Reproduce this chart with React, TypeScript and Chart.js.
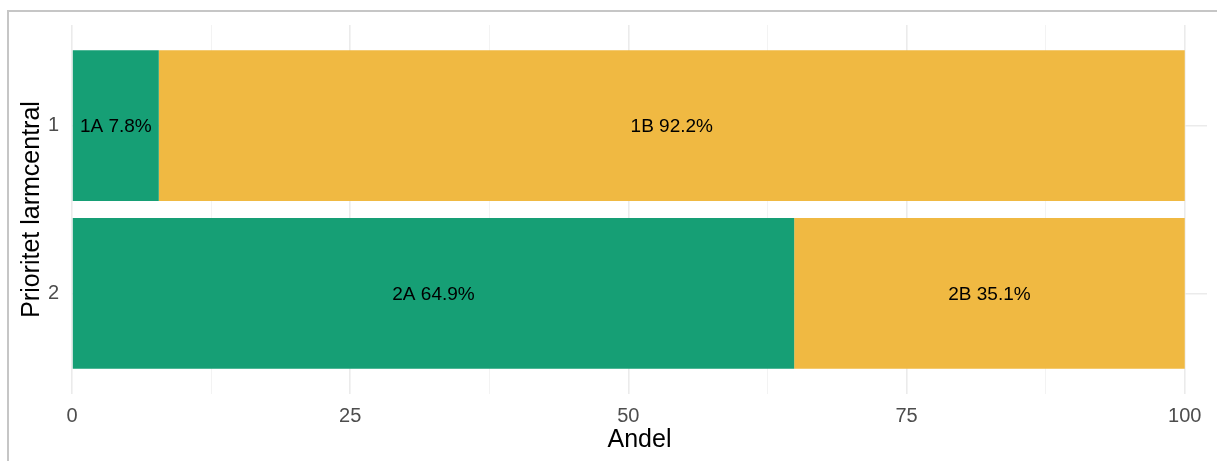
import React, { useEffect, useRef } from "react";
import { Chart, registerables } from "chart.js";

Chart.register(...registerables);

// ---- data ----
const categories = ["1", "2"];
const groupACodes = ["1A", "2A"];
const groupBCodes = ["1B", "2B"];
const shareA = [7.8, 64.9];
const shareB = [92.2, 35.1];
const xTickValues = [0, 25, 50, 75, 100];
const xAxisTitle = "Andel";
const yAxisTitle = "Prioritet larmcentral";

const GREEN = "#169F75";
const YELLOW = "#F0B942";
const FONT = '"Liberation Sans", Arial, Helvetica, sans-serif';

const codesByDataset = [groupACodes, groupBCodes];
const valuesByDataset = [shareA, shareB];

const framePlugin = {
  id: "frame",
  beforeDraw(chart: any) {
    const ctx = chart.ctx;
    ctx.save();
    ctx.strokeStyle = "#c6c6c6";
    ctx.lineWidth = 2;
    ctx.beginPath();
    ctx.moveTo(8, chart.height);
    ctx.lineTo(8, 11);
    ctx.lineTo(chart.width, 11);
    ctx.stroke();
    ctx.restore();
  },
};

const barLabelPlugin = {
  id: "barLabels",
  afterDatasetsDraw(chart: any) {
    const ctx = chart.ctx;
    ctx.save();
    ctx.font = `19px ${FONT}`;
    ctx.fillStyle = "#000000";
    ctx.textAlign = "center";
    ctx.textBaseline = "middle";
    chart.data.datasets.forEach((_ds: any, di: number) => {
      const meta = chart.getDatasetMeta(di);
      meta.data.forEach((el: any, i: number) => {
        const { x, base, y } = el.getProps(["x", "base", "y"], true);
        const v = valuesByDataset[di][i];
        ctx.fillText(`${codesByDataset[di][i]} ${v.toFixed(1)}%`, (x + base) / 2, y + 1);
      });
    });
    ctx.restore();
  },
};

export default function App() {
  const ref = useRef<HTMLCanvasElement | null>(null);

  useEffect(() => {
    if (!ref.current) return;
    const chart = new Chart(ref.current, {
      type: "bar",
      data: {
        datasets: [
          {
            label: "A",
            data: shareA.map((v, i) => ({ x: v, y: i + 1 })) as any,
            backgroundColor: GREEN,
            borderWidth: 0,
            barPercentage: 0.9,
            categoryPercentage: 1,
          },
          {
            label: "B",
            data: shareB.map((v, i) => ({ x: v, y: i + 1 })) as any,
            backgroundColor: YELLOW,
            borderWidth: 0,
            barPercentage: 0.9,
            categoryPercentage: 1,
          },
        ],
      },
      options: {
        indexAxis: "y",
        responsive: false,
        animation: false,
        layout: { padding: { top: 24, right: 10, left: 0, bottom: 0 } },
        plugins: {
          legend: { display: false },
          tooltip: { enabled: false },
        },
        scales: {
          x: {
            type: "linear",
            stacked: true,
            min: 0,
            max: 102,
            offset: false,
            afterBuildTicks: (scale: any) => {
              const t: any[] = [];
              xTickValues.forEach((v, i) => {
                t.push({ value: v });
                if (i < xTickValues.length - 1) t.push({ value: (v + xTickValues[i + 1]) / 2 });
              });
              scale.ticks = t;
            },
            afterFit: (scale: any) => {
              scale.height = 67;
            },
            ticks: {
              autoSkip: false,
              maxRotation: 0,
              padding: 10,
              color: "#4d4d4d",
              font: { family: FONT, size: 20 },
              callback: (value: any) => (xTickValues.includes(Number(value)) ? String(value) : ""),
            },
            grid: {
              drawTicks: false,
              offset: false,
              color: (c: any) => (xTickValues.includes(c.tick?.value) ? "#ebebeb" : "#f3f3f3"),
              lineWidth: (c: any) => (xTickValues.includes(c.tick?.value) ? 1.6 : 1),
            },
            border: { display: false },
            title: {
              display: true,
              text: xAxisTitle,
              color: "#000000",
              font: { family: FONT, size: 25 },
              padding: { top: 0, bottom: 6 },
            },
          },
          y: {
            type: "linear",
            stacked: true,
            reverse: true,
            offset: false,
            min: 0.4,
            max: categories.length + 0.6,
            afterBuildTicks: (scale: any) => {
              scale.ticks = categories.map((_c, i) => ({ value: i + 1 }));
            },
            afterFit: (scale: any) => {
              scale.width = 72;
            },
            ticks: {
              autoSkip: false,
              padding: 13,
              color: "#4d4d4d",
              font: { family: FONT, size: 20 },
              callback: (value: any) => categories[Number(value) - 1] ?? "",
            },
            grid: {
              drawTicks: false,
              offset: false,
              color: "#ebebeb",
              lineWidth: 1.6,
            },
            border: { display: false },
            title: {
              display: true,
              text: yAxisTitle,
              color: "#000000",
              font: { family: FONT, size: 25 },
              padding: { top: 17, bottom: 0 },
            },
          },
        },
      },
      plugins: [framePlugin, barLabelPlugin],
    } as any);
    return () => chart.destroy();
  }, []);

  return (
    <canvas
      ref={ref}
      width={1217}
      height={461}
      style={{ position: "fixed", left: 0, top: 0, display: "block" }}
    />
  );
}
